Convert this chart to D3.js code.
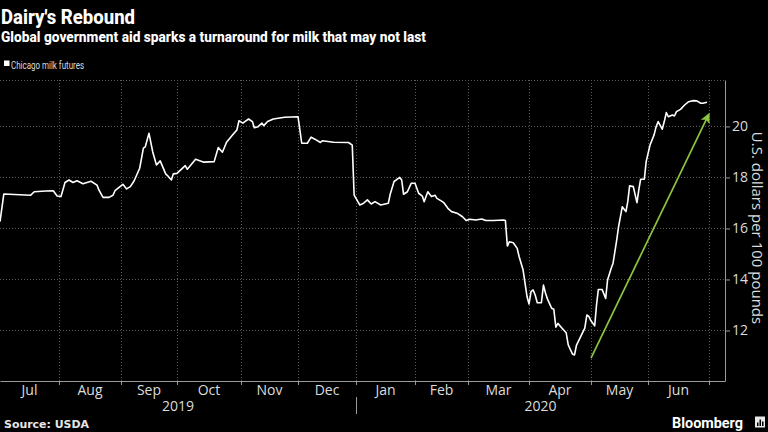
<!DOCTYPE html>
<html><head><meta charset="utf-8">
<script src="https://cdn.jsdelivr.net/npm/d3@7"></script>
<style>
html,body{margin:0;padding:0;background:#000;}
svg{display:block;}
</style></head>
<body>
<script>
// ---------- data ----------
const months = ["Jul","Aug","Sep","Oct","Nov","Dec","Jan","Feb","Mar","Apr","May","Jun"];
const monthStarts = ["2019-07-01","2019-08-01","2019-09-01","2019-10-01","2019-11-01","2019-12-01",
  "2020-01-01","2020-02-01","2020-03-01","2020-04-01","2020-05-01","2020-06-01","2020-07-01"];
const axisEnd = "2020-07-09";
const years = ["2019","2020"];
const yearStarts = ["2019-07-01","2020-01-01"];
const yTicks = [12,14,16,18,20];
const seriesName = "Chicago milk futures";
const dates = [
"2019-07-01","2019-07-03","2019-07-17","2019-07-19","2019-07-25","2019-07-29","2019-07-31",
"2019-08-02","2019-08-04","2019-08-06","2019-08-08","2019-08-10","2019-08-13","2019-08-15","2019-08-17","2019-08-20","2019-08-21","2019-08-23","2019-08-26","2019-08-28","2019-08-29",
"2019-09-02","2019-09-04","2019-09-06","2019-09-08","2019-09-11","2019-09-13","2019-09-14","2019-09-16","2019-09-18","2019-09-20","2019-09-22","2019-09-25","2019-09-26","2019-09-28","2019-09-29",
"2019-10-01","2019-10-05","2019-10-06","2019-10-10","2019-10-14","2019-10-19","2019-10-21","2019-10-23","2019-10-25","2019-10-28","2019-10-30","2019-10-31",
"2019-11-02","2019-11-03","2019-11-05","2019-11-07","2019-11-08","2019-11-10","2019-11-12","2019-11-13","2019-11-15","2019-11-18","2019-11-24",
"2019-12-01","2019-12-03","2019-12-06","2019-12-08","2019-12-10","2019-12-13","2019-12-14","2019-12-20","2019-12-28","2019-12-30","2019-12-31",
"2020-01-02","2020-01-03","2020-01-05","2020-01-07","2020-01-09","2020-01-11","2020-01-14","2020-01-18","2020-01-19","2020-01-21","2020-01-24","2020-01-25","2020-01-26","2020-01-28","2020-01-30",
"2020-02-01","2020-02-03","2020-02-05","2020-02-06","2020-02-08","2020-02-10","2020-02-12","2020-02-13","2020-02-16","2020-02-17","2020-02-19","2020-02-21","2020-02-24","2020-02-27","2020-02-29",
"2020-03-02","2020-03-05","2020-03-08","2020-03-10","2020-03-14","2020-03-19","2020-03-20","2020-03-21","2020-03-22","2020-03-24","2020-03-26","2020-03-27","2020-03-29","2020-03-30","2020-03-31",
"2020-04-01","2020-04-02","2020-04-03","2020-04-04","2020-04-05","2020-04-07","2020-04-08","2020-04-09","2020-04-10","2020-04-12","2020-04-13","2020-04-14","2020-04-15","2020-04-16","2020-04-17","2020-04-19","2020-04-20","2020-04-22","2020-04-23","2020-04-24","2020-04-26","2020-04-28","2020-04-29","2020-04-30",
"2020-05-01","2020-05-03","2020-05-04","2020-05-05","2020-05-07","2020-05-09","2020-05-10","2020-05-12","2020-05-13","2020-05-15","2020-05-16","2020-05-18","2020-05-20","2020-05-21","2020-05-22","2020-05-24","2020-05-26","2020-05-27","2020-05-28","2020-05-30","2020-05-31",
"2020-06-02","2020-06-04","2020-06-05","2020-06-06","2020-06-08","2020-06-09","2020-06-10","2020-06-11","2020-06-13","2020-06-14","2020-06-15","2020-06-17","2020-06-19","2020-06-21","2020-06-23","2020-06-25","2020-06-27","2020-06-28","2020-06-30"
];
const prices = [
16.27,17.35,17.30,17.44,17.47,17.48,17.27,
17.25,17.80,17.90,17.80,17.87,17.75,17.80,17.85,17.70,17.50,17.22,17.22,17.30,17.48,
17.73,17.55,17.64,17.86,18.36,19.15,19.20,19.73,19.00,18.49,18.65,18.13,18.07,17.90,18.14,
18.16,18.46,18.32,18.71,18.60,18.62,19.17,18.99,19.38,19.67,19.86,20.22,
20.13,20.19,20.29,20.19,19.95,19.99,20.13,20.03,20.19,20.29,20.36,
20.38,19.34,19.34,19.58,19.50,19.37,19.44,19.38,19.37,19.27,17.31,
17.05,16.92,16.99,17.12,16.96,17.05,16.92,16.99,17.35,17.84,18.00,17.90,17.34,17.44,17.77,
17.77,17.38,17.27,17.05,17.44,17.25,17.30,17.18,17.05,16.99,16.79,16.66,16.60,16.46,16.31,
16.36,16.33,16.37,16.31,16.31,16.33,16.31,15.31,15.48,15.44,15.22,14.89,14.37,13.85,13.33,
13.04,13.52,13.59,13.39,13.09,13.09,13.78,13.46,13.22,12.87,12.83,12.13,12.28,12.18,12.09,11.91,11.43,11.08,11.04,11.43,11.76,12.09,12.61,12.54,
12.38,12.18,13.00,13.61,13.61,13.26,13.98,14.44,14.64,15.55,16.07,16.85,16.66,17.05,17.67,17.64,17.01,17.51,17.93,17.93,18.62,
19.27,19.67,19.99,20.19,19.89,20.19,20.54,20.38,20.45,20.41,20.58,20.67,20.84,20.97,21.01,21.00,20.91,20.91,20.95
];
const arrowDates = ["2020-05-01","2020-07-01"];
const arrowValues = [10.92, 20.49];

// ---------- chart ----------
const W = 768, H = 432;
const parse = d3.timeParse("%Y-%m-%d");
const svg = d3.select("body").append("svg").attr("width", W).attr("height", H)
  .style("background", "#000");

const plotTop = 80, plotBottom = 381, plotLeft = 0, plotRight = 725;
const x = d3.scaleTime()
  .domain(monthStarts.concat([axisEnd]).map(parse))
  .range([0, 59, 121, 177, 241, 298, 356, 415, 468, 529, 591, 648, 709, 725]);
const y = d3.scaleLinear().domain([10.02, 21.82]).range([plotBottom, plotTop]);

const gridColor = "#5c5c5c";
const axisColor = "#9a9a9a";
const textColor = "#dcdcdc";

// grid: horizontal
svg.append("g").selectAll("line").data(yTicks).join("line")
  .attr("x1", plotLeft).attr("x2", plotRight)
  .attr("y1", d => y(d)).attr("y2", d => y(d))
  .attr("stroke", gridColor).attr("stroke-dasharray", "1,2");
// top border
svg.append("line").attr("x1", plotLeft).attr("x2", plotRight)
  .attr("y1", plotTop + 0.5).attr("y2", plotTop + 0.5)
  .attr("stroke", gridColor).attr("stroke-dasharray", "1,2");
// grid: vertical at month starts
svg.append("g").selectAll("line").data(monthStarts.slice(1).map(parse)).join("line")
  .attr("x1", d => Math.round(x(d)) + 0.5).attr("x2", d => Math.round(x(d)) + 0.5)
  .attr("y1", plotTop).attr("y2", plotBottom)
  .attr("stroke", gridColor).attr("stroke-dasharray", "1,2");

// x axis
const xAxis = d3.axisBottom(x)
  .tickValues(monthStarts.slice(1).map(parse))
  .tickFormat("").tickSize(4).tickSizeOuter(0);
const gx = svg.append("g").attr("transform", `translate(0,${plotBottom})`).call(xAxis);
gx.select(".domain").attr("stroke", axisColor);
gx.selectAll(".tick line").attr("stroke", axisColor);

// month labels
const mDates = monthStarts.map(parse);
svg.append("g").selectAll("text").data(months).join("text")
  .attr("x", (d, i) => (x(mDates[i]) + x(mDates[i + 1])) / 2)
  .attr("y", 395)
  .attr("text-anchor", "middle")
  .attr("fill", textColor)
  .style("font", "14px 'Open Sans', sans-serif")
  .text(d => d);

// year labels
const yEdges = yearStarts.map(parse).concat([parse(axisEnd)]);
svg.append("g").selectAll("text").data(years).join("text")
  .attr("x", (d, i) => (x(yEdges[i]) + x(yEdges[i + 1])) / 2)
  .attr("y", 411)
  .attr("text-anchor", "middle")
  .attr("fill", textColor)
  .style("font", "14px 'Open Sans', sans-serif")
  .text(d => d);
// year separator
svg.append("line")
  .attr("x1", Math.round(x(yEdges[1])) + 0.5).attr("x2", Math.round(x(yEdges[1])) + 0.5)
  .attr("y1", 397).attr("y2", 414)
  .attr("stroke", axisColor);

// y axis right
const yAxis = d3.axisRight(y).tickValues(yTicks).tickSize(5).tickPadding(2).tickSizeOuter(0);
const gy = svg.append("g").attr("transform", `translate(${plotRight},0)`).call(yAxis);
gy.select(".domain").attr("stroke", axisColor);
gy.selectAll(".tick line").attr("stroke", axisColor);
gy.selectAll(".tick text").attr("fill", textColor)
  .style("font", "14px 'Open Sans', sans-serif");

// y axis title
svg.append("text")
  .attr("transform", `translate(752,228) rotate(90)`)
  .attr("text-anchor", "middle")
  .attr("fill", textColor)
  .style("font", "15px 'Open Sans', sans-serif")
  .text("U.S. dollars per 100 pounds");

// line
const pts = dates.map((d, i) => ({date: parse(d), value: prices[i]}));
svg.append("path").datum(pts)
  .attr("fill", "none").attr("stroke", "#ffffff").attr("stroke-width", 1.6)
  .attr("stroke-linejoin", "round")
  .attr("d", d3.line().x(d => x(d.date)).y(d => y(d.value)));

// arrow annotation
const green = "#8cc63f";
svg.append("defs").append("marker")
  .attr("id", "ah").attr("viewBox", "0 0 10 10").attr("refX", 9).attr("refY", 5)
  .attr("markerWidth", 11).attr("markerHeight", 10).attr("markerUnits", "userSpaceOnUse")
  .attr("orient", "auto")
  .append("path").attr("d", "M0,0 L10,5 L0,10 L2.5,5 Z").attr("fill", green);
const a0 = parse(arrowDates[0]), a1 = parse(arrowDates[1]);
svg.append("line")
  .attr("x1", x(a0)).attr("y1", y(arrowValues[0]))
  .attr("x2", x(a1)).attr("y2", y(arrowValues[1]))
  .attr("stroke", green).attr("stroke-width", 1.7)
  .attr("marker-end", "url(#ah)");

// title & subtitle
svg.append("text").attr("x", 1).attr("y", 23.5)
  .attr("fill", "#fff")
  .style("font", "800 21px Roboto, sans-serif")
  .attr("textLength", 134).attr("lengthAdjust", "spacingAndGlyphs")
  .text("Dairy's Rebound");
svg.append("text").attr("x", 1).attr("y", 41.5)
  .attr("fill", "#fff")
  .style("font", "800 14.5px Roboto, sans-serif")
  .attr("textLength", 425).attr("lengthAdjust", "spacingAndGlyphs")
  .text("Global government aid sparks a turnaround for milk that may not last");

// legend
svg.append("rect").attr("x", 4).attr("y", 60.5).attr("width", 5.5).attr("height", 5.5).attr("fill", "#fff");
svg.append("text").attr("x", 11).attr("y", 68.5)
  .attr("fill", textColor)
  .style("font", "11px Roboto, sans-serif")
  .attr("textLength", 73).attr("lengthAdjust", "spacingAndGlyphs")
  .text(seriesName);

// source
svg.append("text").attr("x", 4).attr("y", 427.5)
  .attr("fill", "#e6e6e6")
  .style("font", "bold 11px 'DejaVu Sans', sans-serif")
  .attr("textLength", 85).attr("lengthAdjust", "spacingAndGlyphs")
  .text("Source: USDA");

// Bloomberg logo
svg.append("text").attr("x", 672).attr("y", 427.5)
  .attr("fill", "#fff")
  .style("font", "bold 15px Roboto, sans-serif")
  .attr("textLength", 71).attr("lengthAdjust", "spacingAndGlyphs")
  .text("Bloomberg");
const logo = svg.append("g").attr("transform", "translate(755,416.5)");
logo.append("rect").attr("width", 10).attr("height", 11).attr("fill", "#e8e8e8");
logo.append("rect").attr("x", 2).attr("y", 6).attr("width", 1.5).attr("height", 3.5).attr("fill", "#000");
logo.append("rect").attr("x", 4.5).attr("y", 3).attr("width", 1.5).attr("height", 6.5).attr("fill", "#000");
logo.append("rect").attr("x", 7).attr("y", 5).attr("width", 1.5).attr("height", 4.5).attr("fill", "#000");
</script>
</body></html>
